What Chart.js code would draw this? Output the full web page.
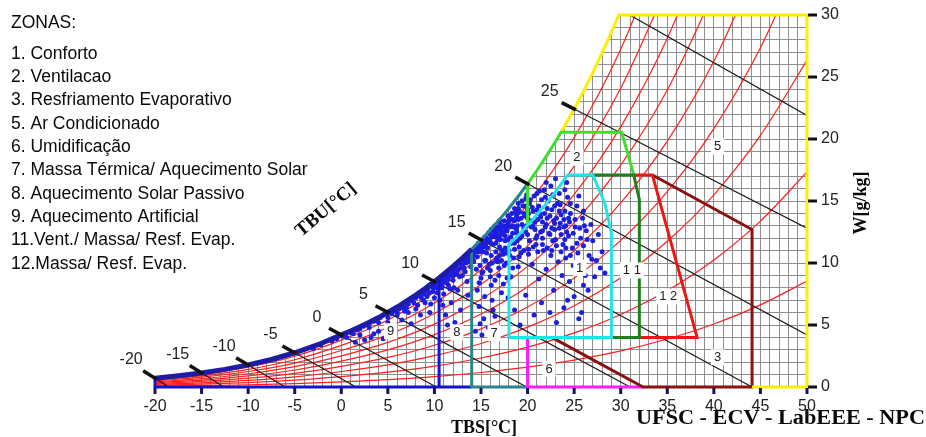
<!DOCTYPE html>
<html>
<head>
<meta charset="utf-8">
<script src="https://cdn.jsdelivr.net/npm/chart.js@4.4.1/dist/chart.umd.min.js"></script>
<style>
  html, body { margin: 0; padding: 0; background: #fff; }
</style>
</head>
<body>
<canvas id="carta" width="926" height="437"></canvas>
<script>
// Carta bioclimatica (TBS x W) com as zonas de Givoni e os dados horarios

const SANS = '"Liberation Sans", Arial, sans-serif';
const SERIF = '"Liberation Serif", "Times New Roman", serif';

// eixos
const xTickLabels = [-20, -15, -10, -5, 0, 5, 10, 15, 20, 25, 30, 35, 40, 45, 50];
const yTickLabels = [0, 5, 10, 15, 20, 25, 30];

// curva de saturacao (TBS, W g/kg)
const satT = [-20, -17.5, -15, -12.5, -10, -7.5, -5, -2.5, 0, 1, 2, 3, 4, 5, 6, 7, 8, 9, 10, 10.5, 11, 12, 13, 14,
              15, 16, 17, 18, 19, 20, 21, 22, 23, 23.6, 24, 25, 26, 27, 28, 29, 29.8];
const satW = [0.71, 0.90, 1.13, 1.42, 1.78, 2.22, 2.76, 3.41, 4.20, 4.52, 4.86, 5.22, 5.60, 6.02, 6.45, 6.92, 7.41, 7.94, 8.50, 8.79, 9.10, 9.73, 10.40, 11.11,
              11.87, 12.67, 13.52, 14.42, 15.38, 16.39, 17.46, 18.60, 19.80, 20.55, 21.07, 22.42, 23.84, 25.35, 26.94, 28.63, 30.0];

// curvas de umidade relativa 10% ... 90%
const rhT = [-20, -15, -10, -5, 0, 5, 10, 15, 20, 25, 30, 35, 40, 45, 50];
const rh10 = [0.07, 0.11, 0.18, 0.27, 0.42, 0.60, 0.84, 1.17, 1.60, 2.17, 2.91, 3.87, 5.08, 6.62, 8.55];
const rh20 = [0.14, 0.23, 0.36, 0.55, 0.84, 1.20, 1.68, 2.34, 3.21, 4.36, 5.85, 7.78, 10.25, 13.38, 17.34];
const rh30 = [0.21, 0.34, 0.53, 0.82, 1.25, 1.79, 2.53, 3.51, 4.83, 6.56, 8.82, 11.75, 15.50, 20.29, 26.37];
const rh40 = [0.28, 0.45, 0.71, 1.10, 1.67, 2.39, 3.37, 4.69, 6.45, 8.78, 11.82, 15.76, 20.84, 27.36, 35.67];
const rh50 = [0.35, 0.56, 0.89, 1.37, 2.09, 2.99, 4.22, 5.88, 8.09, 11.01, 14.84, 19.83, 26.27, 34.58];
const rh60 = [0.42, 0.68, 1.07, 1.65, 2.51, 3.60, 5.07, 7.07, 9.73, 13.26, 17.90, 23.95, 31.80];
const rh70 = [0.49, 0.79, 1.25, 1.93, 2.94, 4.20, 5.93, 8.26, 11.38, 15.53, 20.98, 28.12, 37.41];
const rh80 = [0.57, 0.90, 1.42, 2.20, 3.36, 4.80, 6.78, 9.46, 13.05, 17.81, 24.10, 32.34];
const rh90 = [0.64, 1.02, 1.60, 2.48, 3.78, 5.41, 7.64, 10.66, 14.71, 20.11, 27.24, 36.62];

// linhas de TBU (inicio na saturacao, fim no eixo ou na borda)
const tbuVal = [-20, -15, -10, -5, 0, 5, 10, 15, 20, 25, 30];
const tbuStartW = [0.71, 1.13, 1.78, 2.76, 4.20, 6.02, 8.50, 11.87, 16.39, 22.42, 30.41];
const tbuEndT = [-18.5, -12.6, -6.0, 1.6, 10.2, 19.9, 31.0, 44.1, 50, 50, 50];
const tbuEndW = [0, 0, 0, 0, 0, 0, 0, 0, 4.2, 12.8, 21.9];

// contornos das zonas (TBS, W)
const zona1 = [[18, 4], [18, 11.5], [19, 12.24], [20, 13.05], [21, 13.89], [22, 14.79], [23, 15.74], [24.3, 17.1],
               [27.0, 17.1], [28.3, 14.8], [29, 12.4], [29, 4], [18, 4]];
const zona2 = [[20, 13.05], [20, 16.39], [30.1, 20.55], [31.4, 17.1]];   // trecho central segue a saturacao
const zona3 = [[33.4, 17.1], [44.1, 12.7], [44.1, 0], [32.4, 0], [22.6, 4.0]];
const zona5 = [[29.8, 30], [50, 30], [50, 0], [44.1, 0]];
const zona6 = [[20, 4], [20, 0], [32.4, 0]];
const zona7 = [[14, 11.11], [14, 0], [20, 0]];
const zona8 = [[10.5, 0], [10.5, 8.79]];
const zona9 = [[-20, 0.71], [-20, 0], [14, 0]];
const zona11 = [[27.0, 17.1], [31.4, 17.1], [32.0, 15.1], [32.0, 4], [29, 4]];
const zona12 = [[31.4, 17.1], [33.4, 17.1], [38.2, 4], [32.0, 4]];

const zonaLabels = ['1', '2', '3', '5', '6', '7', '8', '9', '1 1', '1 2'];
const zonaLabelT = [25.6, 25.3, 40.4, 40.4, 22.3, 16.4, 12.4, 5.3, 31.2, 35.1];
const zonaLabelW = [9.6, 18.5, 2.4, 19.4, 1.45, 4.35, 4.4, 4.5, 9.4, 7.3];

const zonasTitulo = 'ZONAS:';
const zonasLista = ['1. Conforto', '2. Ventilacao', '3. Resfriamento Evaporativo', '5. Ar Condicionado',
  '6. Umidificação', '7. Massa Térmica/ Aquecimento Solar', '8. Aquecimento Solar Passivo',
  '9. Aquecimento Artificial', '11.Vent./ Massa/ Resf. Evap.', '12.Massa/ Resf. Evap.'];

// dados horarios (TBS, W)
const climaPts = [
  [-3, 3.1], [-2.2, 3.4], [-1, 3.7], [-0.5, 3.9], [0.2, 4.1], [0.6, 4.0], [1.0, 4.4], [1.3, 4.3], [1.7, 4.6], [2.0, 4.7],
  [2.4, 4.9], [2.8, 5.0], [3.1, 5.2], [3.5, 5.3], [3.8, 5.5], [4.2, 5.6], [4.5, 5.8], [4.9, 5.9], [5.2, 6.1], [5.6, 6.2],
  [6.0, 6.4], [6.3, 6.5], [6.7, 6.7], [7.0, 6.9], [7.4, 7.1], [7.7, 7.2], [8.1, 7.4], [8.4, 7.6], [8.8, 7.8], [9.1, 7.9],
  [9.5, 8.2], [9.8, 8.3], [10.2, 8.5], [10.5, 8.7], [10.9, 8.9], [11.2, 9.1], [11.6, 9.4], [11.9, 9.6], [12.3, 9.8], [12.6, 10.0],
  [13.0, 10.3], [13.3, 10.5], [13.7, 10.8], [14.0, 11.0], [14.4, 11.3], [14.7, 11.6], [15.1, 11.8], [15.4, 12.1], [15.8, 12.4], [16.1, 12.7],
  [16.5, 13.0], [16.9, 13.3], [3.0, 4.8], [4.0, 5.2], [5.0, 5.6], [6.0, 6.0], [7.0, 6.4], [7.8, 6.8], [8.6, 7.2], [9.4, 7.6],
  [10.2, 8.0], [11.0, 8.5], [11.8, 9.0], [12.6, 9.5], [13.4, 10.0], [14.2, 10.6], [15.0, 11.2], [15.8, 11.8], [16.6, 12.4], [17.4, 13.0],
  [12.0, 9.3], [13.0, 9.8], [14.6, 10.9], [15.5, 11.5], [16.2, 12.1],
  [5.4, 5.9], [5.8, 6.1], [6.2, 6.3], [6.6, 6.4], [7.2, 6.7], [7.6, 6.95], [8.0, 7.2], [8.3, 7.35], [8.7, 7.55], [9.0, 7.75],
  [9.3, 7.95], [9.7, 8.1], [10.0, 8.3], [10.4, 8.55], [10.7, 8.6], [11.1, 8.8], [11.4, 9.0], [11.7, 9.2], [12.1, 9.5], [12.4, 9.6],
  [12.8, 9.9], [13.1, 10.1], [13.5, 10.4], [13.9, 10.6], [14.3, 10.9], [14.6, 11.2], [14.9, 11.4], [15.3, 11.7], [15.6, 12.0], [16.0, 12.3],
  [16.4, 12.6], [16.7, 12.9], [17.1, 13.1], [17.5, 13.4], [17.9, 13.8], [18.3, 14.0], [18.6, 14.4], [19.0, 14.8], [19.4, 15.0], [19.8, 15.2],
  [8.9, 7.5], [9.9, 8.0], [10.8, 8.3], [11.5, 8.7], [12.2, 9.1], [12.9, 9.6], [13.6, 10.1], [14.1, 10.3], [14.8, 10.9], [15.4, 11.3],
  [16.0, 11.7], [16.6, 12.1], [17.2, 12.6], [17.8, 13.0], [18.4, 13.5], [19.1, 14.2], [19.7, 14.6], [13.2, 10.3], [14.4, 11.0], [15.7, 11.9],
  [16.8, 12.6], [18.0, 13.4], [12.5, 9.4], [11.3, 8.9], [10.1, 8.2], [17.7, 12.8], [18.8, 13.8], [15.2, 11.5], [13.8, 10.5], [12.0, 9.0],
  [1.5, 3.6], [2.5, 3.8], [3.5, 4.3], [4.0, 4.5], [5.5, 4.9], [6.5, 5.4], [7.5, 5.1], [8.0, 6.3], [8.5, 5.8], [9.0, 6.8],
  [9.5, 6.0], [10.0, 7.2], [4.5, 3.9], [2.0, 4.2], [6.0, 5.8], [7.2, 6.0], [9.8, 7.7], [3.2, 4.0],
  [5.0, 5.2], [6.8, 6.1], [8.8, 7.0], [9.2, 7.3], [10.3, 7.6], [10.6, 7.0], [11.3, 8.4], [11.7, 7.9], [12.7, 8.9], [13.3, 9.3],
  [13.9, 9.7], [12.1, 8.0], [10.9, 6.6], [9.6, 6.7], [8.2, 6.6],
  [11, 7.5], [11.5, 8.2], [12, 8.6], [12.5, 7.8], [13, 9.0], [13.5, 8.5], [11.8, 6.8], [12.8, 6.2], [13.6, 7.4], [11.2, 5.8],
  [12.2, 5.2], [13.2, 9.6], [10.8, 8.0], [12.4, 9.1], [13.8, 10.2], [11.4, 5.0],
  [14.5, 9.5], [15, 8.8], [15.5, 10.2], [16, 9.4], [16.5, 8.6], [17, 10.6], [17.5, 9.8], [14.8, 6.5], [15.3, 5.5], [15.8, 4.8],
  [16.5, 5.7], [17.2, 7.6], [14.6, 7.8], [16.2, 7.0], [15.6, 10.8], [17.8, 8.8], [14.4, 4.5], [15.1, 4.2], [16.8, 10.1], [17.6, 11.2],
  [14.8, 8.4], [15.4, 7.3], [16.1, 8.2], [16.9, 9.0], [17.4, 8.3], [15.1, 9.2], [16.3, 6.2], [14.9, 5.1], [17.9, 7.2], [18.4, 9.6],
  [14.2, 10.1], [14.6, 10.5], [14.9, 9.8], [15.2, 10.9], [15.4, 10.2], [15.7, 11.2], [15.9, 9.9], [16.1, 10.6], [16.3, 11.5], [16.6, 10.9],
  [16.8, 11.9], [17.0, 11.3], [17.2, 12.3], [17.4, 10.7], [17.6, 11.8], [17.8, 12.6], [18.0, 11.0], [18.2, 12.1], [18.4, 13.0], [18.6, 11.6],
  [18.8, 12.7], [19.0, 13.5], [19.2, 12.0], [19.4, 13.1], [19.6, 14.0], [19.8, 12.5], [20.0, 13.6], [20.2, 11.8], [20.4, 12.9], [20.6, 14.2],
  [20.8, 13.3], [21.0, 12.2], [21.2, 14.6], [21.4, 13.7], [21.6, 12.6], [21.8, 14.0], [22.0, 13.1], [22.2, 15.0], [22.4, 12.3], [22.6, 14.3],
  [22.8, 13.4], [23.0, 11.9], [23.2, 14.8], [23.4, 12.8], [23.6, 13.9], [23.8, 11.5], [24.0, 14.2], [24.2, 12.5], [24.5, 13.3], [24.8, 11.2],
  [25.1, 12.9], [25.4, 10.8], [25.7, 12.0], [26.0, 11.4], [26.3, 12.6], [26.6, 10.6], [27.0, 11.8], [27.4, 10.2], [26.8, 13.1], [25.9, 13.6],
  [15.2, 9.3], [15.7, 9.6], [16.2, 10.0], [16.7, 10.4], [17.2, 10.2], [17.7, 10.8], [18.1, 10.6], [18.6, 11.1], [19.1, 10.5], [19.6, 11.0],
  [20.1, 10.7], [20.6, 11.3], [21.1, 10.9], [21.6, 11.5], [22.1, 11.2], [22.6, 11.0], [23.1, 11.4], [23.6, 10.9], [24.1, 11.2], [24.6, 10.6],
  [15.4, 12.0], [15.9, 12.5], [16.4, 12.9], [16.9, 12.2], [17.4, 12.5], [17.9, 11.9], [18.4, 12.4], [18.9, 11.8], [19.4, 12.2], [19.9, 13.0],
  [20.4, 13.4], [20.9, 12.0], [21.4, 12.5], [21.9, 12.9], [22.4, 13.8], [22.9, 13.2], [23.4, 14.2], [23.9, 13.5], [24.4, 12.2], [24.9, 12.4],
  [16.6, 11.6], [17.1, 11.9], [17.6, 12.2], [18.1, 12.9], [18.6, 13.4], [19.1, 14.1], [19.6, 12.8], [20.1, 14.0], [20.6, 13.0], [21.1, 13.5],
  [21.6, 13.3], [22.1, 14.4], [22.6, 12.8], [23.1, 13.6], [23.6, 12.3], [24.1, 13.0], [24.6, 14.0], [25.1, 13.5], [25.6, 12.8], [26.1, 13.0],
  [19.3, 13.6], [20.2, 14.8], [21.0, 14.3], [21.9, 15.3], [22.7, 15.5], [23.5, 14.7], [24.3, 15.3], [18.5, 12.9], [17.0, 13.4], [16.3, 12.8],
  [19.0, 14.4], [20.0, 14.3], [21.3, 15.8], [22.0, 16.5],
  [16.0, 8.9], [16.9, 9.6], [17.7, 10.0], [18.5, 10.4], [19.3, 10.8], [20.1, 11.1], [20.9, 11.5], [21.7, 11.0], [22.5, 10.6], [23.3, 10.1],
  [24.1, 10.4], [24.9, 9.8], [25.6, 9.3], [19.0, 9.7], [20.5, 9.9], [22.0, 9.5], [23.7, 9.0], [18.2, 8.9], [21.2, 8.7], [24.5, 8.5],
  [26.2, 9.0], [27.8, 9.6], [22.8, 7.8], [25.0, 7.3], [26.5, 7.8], [23.9, 6.4], [25.8, 6.0], [21.5, 6.8], [19.8, 7.4], [18.6, 6.2],
  [17.5, 12.9], [18.1, 13.6], [18.7, 14.1], [19.5, 14.6], [20.3, 15.1], [21.0, 15.6], [21.8, 15.9], [22.5, 16.2], [23.4, 15.6], [24.0, 15.9],
  [22.9, 14.6], [21.5, 15.1], [20.7, 15.4], [19.9, 15.5], [24.6, 14.8], [25.3, 14.6], [26.0, 14.2], [25.5, 15.4], [23.0, 16.8], [24.2, 16.5],
  [15.0, 11.4], [15.5, 11.6], [16.4, 12.3], [17.1, 12.8], [17.9, 13.2], [18.9, 13.0], [19.7, 13.8], [20.5, 14.5], [21.3, 14.0], [22.1, 13.6],
  [22.9, 12.7], [23.5, 13.2], [24.4, 13.6], [20.0, 12.3], [19.1, 11.3], [18.3, 11.6], [17.3, 11.0], [16.6, 10.2], [21.6, 12.0], [22.7, 11.8],
  [24.0, 11.9], [25.3, 11.6], [26.4, 11.9], [15.9, 11.9], [18.9, 12.4], [20.8, 12.7], [22.3, 12.4], [23.9, 12.9],
  [26.0, 8.2], [27.2, 8.9], [28.0, 10.9], [27.6, 12.3], [24.3, 7.0], [22.4, 6.0], [20.7, 5.8], [23.1, 5.2], [25.5, 5.5], [19.2, 5.0],
  [26.9, 10.3], [28.3, 9.2]
];

// ---- montagem dos datasets ----
const GRID = '#8e8e8e';
const toXY = arr => arr.map(([x, y]) => ({ x, y }));
const satPts = (a, b) => satT.map((t, i) => ({ x: t, y: satW[i] })).filter(p => p.x >= a && p.x <= b);

function linha(data, color, width, order, extra) {
  return Object.assign({
    data, showLine: true, borderColor: color, borderWidth: width,
    pointRadius: 0, fill: false, tension: 0, order, clip: 6
  }, extra || {});
}

const datasets = [];

// area acima da saturacao em branco (cobre a grade)
datasets.push(linha(satPts(-20, 30), 'rgba(0,0,0,0)', 0, 20,
  { fill: { value: 31 }, backgroundColor: '#ffffff', clip: { left: 0, top: 3, right: 0, bottom: 0 } }));

// umidade relativa
[rh10, rh20, rh30, rh40, rh50, rh60, rh70, rh80, rh90].forEach(w => {
  datasets.push(linha(w.map((v, i) => ({ x: rhT[i], y: v })), '#ff1f1f', 1.2, 18,
    { cubicInterpolationMode: 'monotone', clip: 0 }));
});

// TBU
tbuVal.forEach((t, i) => {
  datasets.push(linha([{ x: t, y: tbuStartW[i] }, { x: tbuEndT[i], y: tbuEndW[i] }], '#1b1b1b', 1.2, 16, { clip: 0 }));
});

// pontos climaticos
datasets.push({
  data: toXY(climaPts), pointRadius: 2.5, pointBackgroundColor: '#1e1ee0', pointBorderWidth: 0,
  showLine: false, order: 12
});

// zonas
datasets.push(linha(toXY(zona12), '#ee1515', 3, 8));
datasets.push(linha(toXY(zona3), '#8a1111', 3, 8));
datasets.push(linha(toXY(zona11), '#1d7f1d', 3, 7));
datasets.push(linha(toXY(zona1), '#22e4e8', 3, 6));
datasets.push(linha([toXY(zona2)[0], ...satPts(20, 23.6), ...toXY(zona2).slice(2)], '#3ddf2e', 3, 7));
datasets.push(linha(toXY(zona6), '#ff19ff', 3, 8));
datasets.push(linha([...satPts(14, 20).reverse(), ...toXY(zona7).slice(1)], '#28858c', 3, 8));
datasets.push(linha(toXY(zona8), '#1414d6', 3, 8));
datasets.push(linha(toXY(zona9), '#1414c8', 3, 8));
datasets.push(linha([...satPts(23.6, 29.8), ...toXY(zona5)], '#ffee00', 3, 7));
datasets.push(linha(satPts(-20, 14), '#1c1ca6', 5, 5));

// ---- texto e marcas auxiliares ----
const decoracoes = {
  id: 'decoracoes',
  afterDraw(chart) {
    const ctx = chart.ctx;
    const xs = chart.scales.x, ys = chart.scales.y;
    const area = chart.chartArea;
    ctx.save();

    // marcas do eixo W (direita) e TBS (inferior)
    ctx.lineCap = 'butt';
    ctx.strokeStyle = '#111';
    ctx.lineWidth = 3;
    yTickLabels.forEach(v => {
      const py = ys.getPixelForValue(v);
      ctx.beginPath(); ctx.moveTo(area.right + 1, py); ctx.lineTo(area.right + 10, py); ctx.stroke();
    });
    ctx.strokeStyle = '#14145a';
    xTickLabels.forEach(v => {
      const px = xs.getPixelForValue(v);
      ctx.beginPath(); ctx.moveTo(px, area.bottom + 1); ctx.lineTo(px, area.bottom + 7); ctx.stroke();
    });

    // tracos e rotulos das linhas de TBU
    ctx.font = '16px ' + SANS;
    ctx.fillStyle = '#222';
    ctx.textAlign = 'center';
    ctx.textBaseline = 'middle';
    tbuVal.forEach((t, i) => {
      if (tbuStartW[i] > 30) return;
      const x0 = xs.getPixelForValue(t), y0 = ys.getPixelForValue(tbuStartW[i]);
      const x1 = xs.getPixelForValue(tbuEndT[i]), y1 = ys.getPixelForValue(tbuEndW[i]);
      const len = Math.hypot(x1 - x0, y1 - y0);
      const ux = (x1 - x0) / len, uy = (y1 - y0) / len;
      const sx = x0 - ux * 14, sy = y0 - uy * 14;
      ctx.strokeStyle = '#111';
      ctx.lineWidth = 3.5;
      ctx.beginPath(); ctx.moveTo(sx, sy); ctx.lineTo(x0 + ux * 2, y0 + uy * 2); ctx.stroke();
      ctx.fillText(String(t), sx - 12, sy - 11);
    });

    // numeros das zonas
    ctx.font = '13px ' + SANS;
    zonaLabels.forEach((s, i) => {
      const px = xs.getPixelForValue(zonaLabelT[i]), py = ys.getPixelForValue(zonaLabelW[i]);
      const w = ctx.measureText(s).width + 6;
      ctx.fillStyle = '#ffffff';
      ctx.fillRect(px - w / 2, py - 8, w, 16);
      ctx.fillStyle = '#222';
      ctx.fillText(s, px, py);
    });

    // legenda das zonas
    ctx.textAlign = 'left';
    ctx.font = '17.5px ' + SANS;
    ctx.fillStyle = '#0a0a0a';
    ctx.fillText(zonasTitulo, 11, 23);
    zonasLista.forEach((s, i) => ctx.fillText(s, 11, 54 + i * 23.3));

    // titulos dos eixos
    ctx.font = 'bold 19px ' + SERIF;
    ctx.textAlign = 'center';
    ctx.save();
    ctx.translate(326, 210);
    ctx.rotate(-40 * Math.PI / 180);
    ctx.fillText('TBU[°C]', 0, 0);
    ctx.restore();

    ctx.font = 'bold 18px ' + SERIF;
    ctx.fillText('TBS[°C]', 484, 428);

    ctx.save();
    ctx.translate(861, 203);
    ctx.rotate(-Math.PI / 2);
    ctx.fillText('W[g/kg]', 0, 0);
    ctx.restore();

    ctx.font = 'bold 20px ' + SERIF;
    const credito = 'UFSC - ECV - LabEEE - NPC';
    const cw = ctx.measureText(credito).width;
    ctx.save();
    ctx.translate(636, 419);
    ctx.scale(289 / cw, 1);
    ctx.textAlign = 'left';
    ctx.fillText(credito, 0, 0);
    ctx.restore();

    ctx.restore();
  }
};

new Chart(document.getElementById('carta'), {
  type: 'scatter',
  data: { datasets },
  options: {
    responsive: false,
    animation: false,
    events: [],
    layout: { padding: { left: 155, top: 15, right: 0, bottom: 0 } },
    plugins: { legend: { display: false }, tooltip: { enabled: false } },
    scales: {
      x: {
        type: 'linear', min: -20, max: 50,
        border: { display: false },
        grid: {
          lineWidth: 1, drawTicks: false,
          color: c => (c.tick && c.tick.value === -20) ? 'rgba(0,0,0,0)' : GRID
        },
        ticks: {
          stepSize: 1, autoSkip: false, maxRotation: 0, padding: 10,
          color: '#222', font: { family: SANS, size: 16 },
          callback: v => xTickLabels.includes(v) ? String(v) : ''
        },
        afterFit(s) { s.height = 50; s.paddingLeft = 0; s.paddingRight = 0; }
      },
      y: {
        type: 'linear', position: 'right', min: 0, max: 30,
        border: { display: false },
        grid: {
          lineWidth: 1, drawTicks: false,
          color: c => (c.tick && c.tick.value === 30) ? 'rgba(0,0,0,0)' : GRID
        },
        ticks: {
          stepSize: 1, autoSkip: false, padding: 14,
          color: '#222', font: { family: SANS, size: 16 },
          callback: v => yTickLabels.includes(v) ? String(v) : ''
        },
        afterFit(s) { s.width = 119; s.paddingTop = 0; s.paddingBottom = 0; }
      }
    }
  },
  plugins: [decoracoes]
});
</script>
</body>
</html>
